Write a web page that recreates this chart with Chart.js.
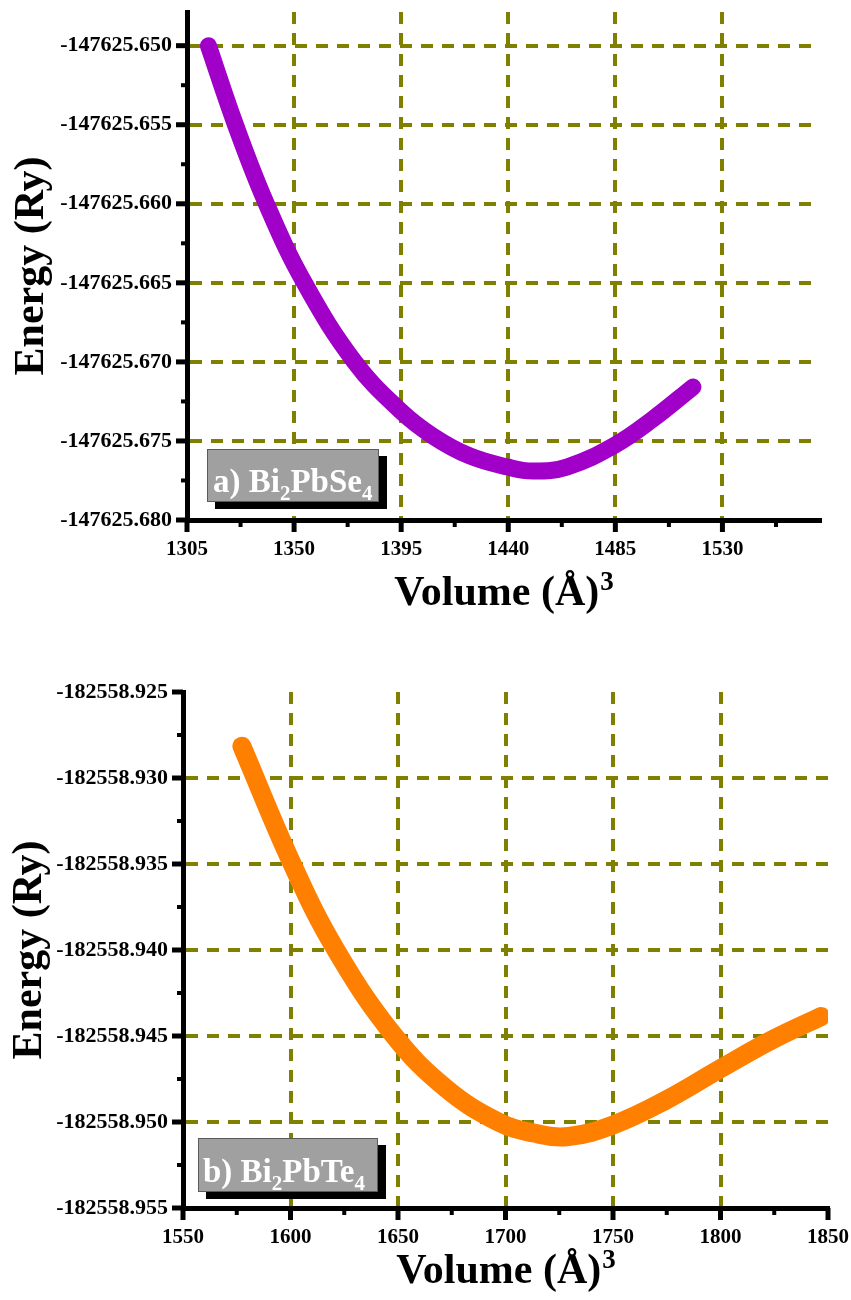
<!DOCTYPE html>
<html lang="en">
<head>
<meta charset="UTF-8">
<title>Energy vs Volume</title>
<script src="https://cdn.jsdelivr.net/npm/chart.js"></script>
<style>
  body { margin: 0; background: #fff; }
  canvas { position: absolute; left: 0; }
</style>
</head>
<body>
<canvas id="seChart" width="851" height="640" style="top:0"></canvas>
<canvas id="teChart" width="851" height="660" style="top:640px"></canvas>
<script>
// a) Bi2PbSe4
const seVolume = [1314.0, 1325.4, 1338.4, 1354.4, 1375.5, 1394.4, 1408.3, 1423.8, 1439.8, 1450.3, 1464.6, 1484.8, 1500.8, 1517.6];
const seEnergy = [-147625.6500, -147625.65502, -147625.66002, -147625.66502, -147625.67001, -147625.67305, -147625.67469,
                  -147625.67595, -147625.67665, -147625.67690, -147625.67665, -147625.67526, -147625.67361, -147625.67159];
const seXTicks = ['1305', '1350', '1395', '1440', '1485', '1530'];
const seYTicks = ['-147625.680', '-147625.675', '-147625.670', '-147625.665', '-147625.660', '-147625.655', '-147625.650'];

// b) Bi2PbTe4
const teVolume = [1577.4, 1600.9, 1621.0, 1648.1, 1672.4, 1696.7, 1713.1, 1729.4, 1750.5, 1774.3, 1800.9, 1824.3, 1846.7];
const teEnergy = [-182558.92815, -182558.93503, -182558.93997, -182558.94497, -182558.94805, -182558.95000, -182558.95064,
                  -182558.95084, -182558.95015, -182558.94875, -182558.94683, -182558.94520, -182558.94387];
const teXTicks = ['1550', '1600', '1650', '1700', '1750', '1800', '1850'];
const teYTicks = ['-182558.955', '-182558.950', '-182558.945', '-182558.940', '-182558.935', '-182558.930', '-182558.925'];

const OLIVE = '#808000';
const FONT = 'Liberation Serif';

function axisOpts(labels, min, max, gap, size, fontSize) {
  const vals = labels.map(Number);
  const edge = c => Math.abs(c.tick.value - min) < 1e-7 || Math.abs(c.tick.value - max) < 1e-7;
  return {
    type: 'linear',
    min: min,
    max: max,
    afterBuildTicks: s => { s.ticks = vals.map(v => ({ value: v })); },
    afterFit: s => {
      s.paddingLeft = s.paddingRight = s.paddingTop = s.paddingBottom = 0;
      if (s.isHorizontal()) s.height = size; else s.width = size;
    },
    ticks: {
      padding: gap,
      color: '#000',
      autoSkip: false,
      maxRotation: 0,
      font: { family: FONT, weight: 'bold', size: fontSize },
      callback: (v, i) => labels[i]
    },
    grid: { color: c => edge(c) ? 'rgba(0,0,0,0)' : OLIVE, lineWidth: 4, drawTicks: false },
    border: { color: '#000', width: 5, dash: [12, 9] }
  };
}

// minor ticks sit half-way between the labelled ones
function minors(labels, max) {
  const v = labels.map(Number);
  const step = v[1] - v[0];
  const out = [];
  for (let k = v[0] + step / 2; k <= max + 1e-9; k += step) out.push(k);
  return out;
}

function decor(p) {
  return {
    id: 'decor',
    afterDraw(chart) {
      const { ctx, chartArea: a, scales: { x, y } } = chart;
      ctx.save();
      ctx.strokeStyle = '#000';
      const seg = (x1, y1, x2, y2, w) => {
        ctx.lineWidth = w;
        ctx.beginPath(); ctx.moveTo(x1, y1); ctx.lineTo(x2, y2); ctx.stroke();
      };
      x.ticks.forEach(t => { const px = x.getPixelForValue(t.value); seg(px, a.bottom, px, a.bottom + 12, 5); });
      minors(p.xTicks, x.max).forEach(v => { const px = x.getPixelForValue(v); seg(px, a.bottom, px, a.bottom + 7, 4); });
      y.ticks.forEach(t => { const py = y.getPixelForValue(t.value); seg(a.left, py, a.left - 11, py, 5); });
      minors(p.yTicks, y.max).forEach(v => { const py = y.getPixelForValue(v); seg(a.left, py, a.left - 6, py, 4); });

      // axis titles
      ctx.fillStyle = '#000';
      ctx.textBaseline = 'alphabetic';
      ctx.textAlign = 'left';
      const main = 'Volume (Å)';
      ctx.font = 'bold 42px "' + FONT + '"';
      const w1 = ctx.measureText(main).width;
      ctx.font = 'bold 27px "' + FONT + '"';
      const w2 = ctx.measureText('3').width;
      const tx = (a.left + a.right) / 2 - (w1 + w2) / 2;
      ctx.font = 'bold 42px "' + FONT + '"';
      ctx.fillText(main, tx, p.xTitleY);
      ctx.font = 'bold 27px "' + FONT + '"';
      ctx.fillText('3', tx + w1 + 1, p.xTitleY - 15);

      ctx.save();
      ctx.translate(p.yTitleX, (a.top + a.bottom) / 2);
      ctx.rotate(-Math.PI / 2);
      ctx.textAlign = 'center';
      ctx.font = 'bold 42px "' + FONT + '"';
      ctx.fillText('Energy (Ry)', 0, 0);
      ctx.restore();

      // compound label box
      const b = p.box;
      ctx.fillStyle = '#000';
      ctx.fillRect(b.x + 8, b.y + 7, b.w, b.h);
      ctx.fillStyle = '#a0a0a0';
      ctx.fillRect(b.x, b.y, b.w, b.h);
      ctx.strokeStyle = '#5a5a5a';
      ctx.lineWidth = 1;
      ctx.strokeRect(b.x + 0.5, b.y + 0.5, b.w - 1, b.h - 1);
      ctx.fillStyle = '#fff';
      ctx.textAlign = 'left';
      let cx = b.tx;
      p.label.forEach(([s, sub]) => {
        ctx.font = 'bold ' + (sub ? 21 : 33) + 'px "' + FONT + '"';
        ctx.fillText(s, cx, b.ty + (sub ? 8 : 0));
        cx += ctx.measureText(s).width;
      });
      ctx.restore();
    }
  };
}

function energyChart(id, p) {
  return new Chart(document.getElementById(id), {
    type: 'line',
    data: {
      datasets: [{
        data: p.vol.map((v, i) => ({ x: v, y: p.en[i] })),
        borderColor: p.color,
        borderWidth: p.lineWidth,
        borderCapStyle: 'round',
        borderJoinStyle: 'round',
        tension: 0.4,
        pointRadius: 0,
        fill: false
      }]
    },
    options: {
      responsive: false,
      animation: false,
      layout: { padding: { top: p.top, right: 851 - p.right, left: 0, bottom: 0 } },
      plugins: { legend: { display: false }, tooltip: { enabled: false } },
      scales: {
        x: axisOpts(p.xTicks, Number(p.xTicks[0]), p.xMax, 17, p.xHeight, 21),
        y: axisOpts(p.yTicks, Number(p.yTicks[0]), p.yMax, 15, p.yWidth, 22)
      }
    },
    plugins: [decor(p)]
  });
}

energyChart('seChart', {
  vol: seVolume, en: seEnergy, xTicks: seXTicks, yTicks: seYTicks,
  xMax: 1571, yMax: -147625.64787,
  color: '#a000c8', lineWidth: 17,
  top: 12, right: 820, xHeight: 120, yWidth: 187,
  xTitleY: 605, yTitleX: 43,
  box: { x: 207, y: 449, w: 172, h: 53, tx: 213, ty: 492 },
  label: [['a) Bi', 0], ['2', 1], ['PbSe', 0], ['4', 1]]
});

energyChart('teChart', {
  vol: teVolume, en: teEnergy, xTicks: teXTicks, yTicks: teYTicks,
  xMax: 1850, yMax: -182558.925,
  color: '#ff8000', lineWidth: 19,
  top: 52, right: 828, xHeight: 92, yWidth: 183,
  xTitleY: 643, yTitleX: 41,
  box: { x: 198, y: 498, w: 180, h: 54, tx: 203, ty: 542 },
  label: [['b) Bi', 0], ['2', 1], ['PbTe', 0], ['4', 1]]
});
</script>
</body>
</html>
